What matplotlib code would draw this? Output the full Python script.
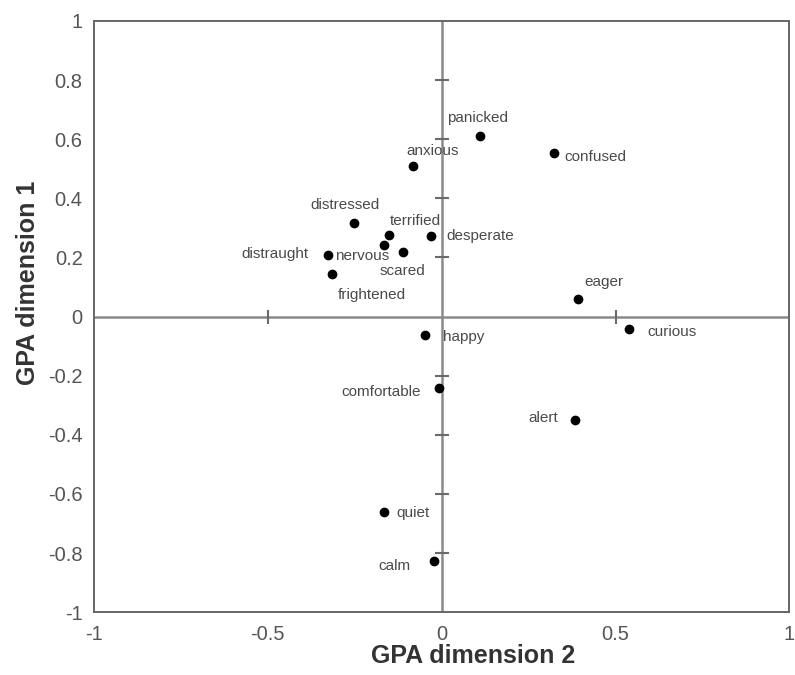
import numpy as np
import matplotlib.pyplot as plt

plt.rcParams['font.family'] = ['Liberation Sans', 'DejaVu Sans']

# GPA configuration (dimension 2 on x, dimension 1 on y)
words = ['panicked', 'confused', 'anxious', 'distressed', 'terrified', 'nervous',
         'scared', 'desperate', 'distraught', 'frightened', 'eager', 'curious',
         'happy', 'comfortable', 'alert', 'quiet', 'calm']
dim2 = [0.110, 0.322, -0.081, -0.253, -0.151, -0.166, -0.112, -0.030, -0.326,
        -0.316, 0.391, 0.540, -0.048, -0.008, 0.383, -0.166, -0.022]
dim1 = [0.612, 0.553, 0.508, 0.316, 0.277, 0.243, 0.220, 0.271, 0.207,
        0.145, 0.061, -0.042, -0.062, -0.242, -0.349, -0.661, -0.828]

# label offsets in points (dx, dy, ha)
offsets = {
    'panicked': (-2, 13, 'center'), 'confused': (8, -3, 'left'),
    'anxious': (14, 11, 'center'), 'distressed': (-6, 13, 'center'),
    'terrified': (19, 10, 'center'), 'nervous': (-35, -8, 'left'),
    'scared': (0, -14, 'center'), 'desperate': (11, 0, 'left'),
    'distraught': (-14, 1, 'right'), 'frightened': (29, -15, 'center'),
    'eager': (19, 12, 'center'), 'curious': (13, -2, 'left'),
    'happy': (13, -1.5, 'left'), 'comfortable': (-13, -3, 'right'),
    'alert': (-12, 1, 'right'), 'quiet': (9, -0.5, 'left'),
    'calm': (-17, -3, 'right'),
}

fig = plt.figure(figsize=(7.95, 6.75), dpi=100)
ax = fig.add_axes([0.118, 0.093, 0.875, 0.876])

ax.set_xlim(-1, 1)
ax.set_ylim(-1, 1)

# inner axes through origin with small cross ticks
ax.axhline(0, color='#8a8a8a', lw=1.8, zorder=1)
ax.axvline(0, color='#8a8a8a', lw=1.8, zorder=1)
yt = [-0.8, -0.6, -0.4, -0.2, 0.2, 0.4, 0.6, 0.8]
xt = [-0.5, 0.5]
ax.plot([0] * len(yt), yt, ls='none', marker='_', ms=9.5, mew=1.5, color='#6a6a6a', zorder=1)
ax.plot(xt, [0] * len(xt), ls='none', marker='|', ms=9.5, mew=1.5, color='#6a6a6a', zorder=1)

ax.scatter(dim2, dim1, s=36, color='black', zorder=3)
for w, x, y in zip(words, dim2, dim1):
    dx, dy, ha = offsets[w]
    ax.annotate(w, (x, y), xytext=(dx, dy), textcoords='offset points',
                ha=ha, va='center', fontsize=11, color='#4a4a4a')

ax.set_xticks([-1, -0.5, 0, 0.5, 1])
ax.set_xticklabels(['-1', '-0.5', '0', '0.5', '1'])
ax.set_yticks(np.round(np.arange(-1, 1.01, 0.2), 1))
ax.set_yticklabels(['-1', '-0.8', '-0.6', '-0.4', '-0.2', '0', '0.2', '0.4', '0.6', '0.8', '1'])
ax.tick_params(length=0, labelsize=14.5, labelcolor='#555555')
ax.tick_params(axis='x', pad=9)
ax.tick_params(axis='y', pad=8)

for s in ax.spines.values():
    s.set_color('#666666')
    s.set_linewidth(1.4)

ax.set_xlabel('GPA dimension 2', fontsize=18, fontweight='bold', color='#333333')
ax.set_ylabel('GPA dimension 1', fontsize=18, fontweight='bold', color='#333333')
ax.xaxis.set_label_coords(0.546, -0.053)
ax.yaxis.set_label_coords(-0.078, 0.557)

fig.savefig('out.png', dpi=100)
